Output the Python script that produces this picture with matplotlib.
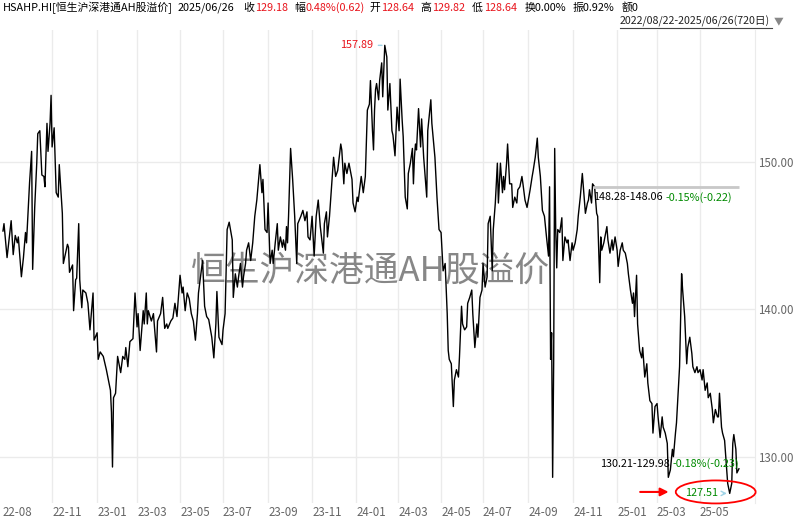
import matplotlib
matplotlib.use('Agg')
import matplotlib.pyplot as plt
from matplotlib.patches import Ellipse
from matplotlib.lines import Line2D

plt.rcParams['font.family'] = ['Noto Sans CJK SC', 'DejaVu Sans']

# trading-day index (0 = 2022/08/22) and index value
days = [0, 1, 4, 8, 10, 12, 14, 15, 18, 20, 22, 23, 26, 28, 29, 31, 33, 34, 36, 38,
        40, 41, 43, 44, 46, 47, 48, 50, 52, 54, 55, 58, 59, 63, 64, 65, 68, 69, 71, 72,
        74, 75, 77, 78, 81, 83, 85, 88, 89, 92, 93, 95, 98, 101, 103, 105, 106, 107, 108, 110,
        112, 115, 117, 119, 120, 122, 124, 127, 129, 131, 132, 134, 137, 138, 140, 141, 142, 145, 147, 148,
        150, 151, 154, 156, 158, 160, 161, 164, 166, 168, 170, 173, 175, 176, 178, 180, 182, 184, 186, 188,
        190, 191, 195, 197, 199, 201, 204, 206, 208, 209, 211, 214, 215, 217, 219, 221, 224, 225, 227, 229,
        230, 232, 234, 235, 237, 238, 240, 242, 244, 246, 248, 251, 253, 254, 256, 258, 259, 261, 263, 264,
        266, 268, 269, 271, 273, 274, 276, 277, 278, 279, 281, 283, 285, 287, 288, 291, 293, 295, 297, 298,
        300, 302, 304, 306, 308, 310, 313, 314, 316, 317, 319, 321, 323, 325, 327, 330, 331, 333, 334, 336,
        338, 341, 342, 344, 346, 347, 350, 352, 354, 356, 358, 359, 361, 362, 363, 364, 365, 367, 368, 370,
        371, 373, 375, 376, 378, 380, 381, 383, 385, 387, 388, 390, 391, 393, 395, 396, 398, 400, 401, 402,
        403, 404, 406, 408, 409, 411, 414, 415, 418, 419, 422, 424, 426, 428, 430, 432, 434, 435, 436, 438,
        440, 441, 443, 445, 446, 448, 449, 451, 453, 454, 456, 458, 459, 461, 463, 464, 466, 468, 469, 471,
        473, 474, 476, 478, 479, 481, 483, 484, 486, 488, 489, 490, 492, 493, 495, 497, 498, 500, 502, 503,
        505, 507, 508, 510, 512, 515, 517, 518, 520, 522, 523, 525, 527, 529, 530, 531, 533, 534, 535, 536,
        537, 538, 539, 540, 541, 542, 544, 546, 547, 549, 551, 552, 554, 556, 557, 559, 561, 562, 564, 566,
        567, 569, 571, 572, 573, 575, 576, 578, 580, 581, 583, 584, 585, 587, 590, 591, 593, 595, 596, 598,
        600, 601, 603, 605, 606, 608, 610, 611, 613, 615, 616, 617, 619, 620, 622, 624, 625, 627, 629, 630,
        632, 634, 635, 637, 639, 640, 642, 644, 645, 647, 649, 650, 652, 654, 655, 657, 658, 659, 661, 663,
        664, 666, 668, 669, 671, 673, 674, 676, 678, 679, 681, 683, 684, 686, 688, 689, 691, 693, 694, 696,
        698, 699, 700, 702, 703, 705, 707, 708, 710, 712, 713, 714, 716, 717, 719]
values = [145.3, 145.8, 143.5, 146.0, 143.7, 145.0, 144.5, 144.9, 142.2, 143.5, 145.2, 144.5, 148.6, 150.7, 142.7, 146.9, 149.9, 151.9, 152.1, 149.1,
          149.0, 148.3, 152.6, 150.7, 152.6, 154.5, 151.0, 152.3, 147.9, 147.6, 149.8, 146.5, 143.1, 144.4, 144.2, 142.5, 143.0, 139.9, 142.0, 142.1,
          145.8, 142.0, 140.1, 141.3, 141.1, 140.4, 138.6, 141.1, 137.9, 138.4, 136.6, 137.1, 136.8, 135.9, 135.2, 134.5, 133.0, 129.3, 134.0, 134.3,
          136.8, 135.7, 136.8, 136.6, 137.4, 136.1, 137.8, 138.0, 141.1, 138.8, 139.7, 137.2, 139.9, 139.0, 141.1, 139.0, 139.9, 139.2, 139.7, 138.8,
          137.1, 139.2, 139.7, 140.8, 138.7, 139.0, 138.7, 139.2, 139.4, 140.4, 139.5, 142.3, 141.1, 141.5, 139.9, 141.1, 140.7, 139.7, 139.2, 137.9,
          139.7, 141.1, 143.3, 140.2, 139.5, 139.3, 138.1, 136.7, 139.0, 141.2, 138.1, 137.6, 138.6, 139.7, 145.4, 145.9, 144.7, 140.8, 142.4, 141.5,
          142.1, 143.1, 141.5, 142.2, 143.1, 144.0, 144.5, 143.3, 144.5, 146.3, 147.4, 149.8, 147.9, 148.8, 145.4, 145.2, 147.2, 143.1, 144.0, 143.1,
          144.5, 145.8, 144.0, 144.9, 144.2, 144.7, 144.0, 145.6, 144.5, 146.3, 150.9, 148.8, 146.3, 143.1, 145.8, 146.3, 146.7, 146.0, 146.6, 144.9,
          144.7, 146.3, 143.6, 146.3, 147.4, 145.6, 143.8, 145.8, 146.6, 144.9, 146.3, 148.3, 150.3, 149.0, 149.4, 151.2, 150.8, 148.5, 149.9, 149.2,
          149.9, 148.8, 147.2, 146.6, 147.6, 147.3, 149.0, 147.9, 149.0, 153.5, 153.9, 155.5, 152.1, 150.8, 153.5, 154.9, 155.3, 154.2, 155.5, 156.7,
          154.4, 157.89, 157.1, 153.5, 155.3, 152.1, 151.8, 150.4, 153.7, 152.1, 155.6, 152.8, 151.7, 147.6, 146.8, 149.2, 149.9, 150.9, 148.5, 150.3,
          151.2, 150.8, 153.6, 151.0, 152.9, 150.3, 147.6, 152.1, 154.2, 152.6, 150.3, 147.6, 145.4, 145.2, 142.6, 143.1, 139.7, 137.2, 136.6, 136.3,
          133.4, 135.2, 135.9, 135.4, 136.8, 140.2, 139.0, 138.6, 138.8, 140.4, 140.8, 141.3, 139.7, 137.4, 139.0, 138.1, 140.8, 141.3, 143.1, 141.5,
          142.2, 145.8, 146.3, 142.6, 145.4, 147.2, 149.9, 147.2, 149.9, 147.9, 149.0, 148.1, 149.9, 151.2, 148.5, 148.5, 146.9, 147.6, 147.2, 148.1,
          148.3, 149.0, 148.5, 147.4, 146.9, 148.1, 149.0, 149.4, 150.3, 151.6, 150.3, 149.0, 146.7, 146.3, 145.6, 144.9, 143.6, 148.3, 136.6, 138.4,
          128.6, 136.3, 150.9, 145.4, 142.8, 145.4, 145.2, 146.2, 143.3, 144.9, 144.5, 144.7, 143.3, 144.5, 144.0, 144.5, 145.4, 146.3, 147.6, 149.2,
          148.3, 146.5, 147.2, 147.4, 148.1, 147.2, 148.5, 148.3, 146.5, 146.3, 141.8, 144.9, 144.0, 144.5, 145.6, 144.7, 143.8, 144.7, 144.0, 144.9,
          144.0, 142.9, 144.0, 144.5, 144.0, 143.8, 143.1, 142.4, 141.3, 140.4, 141.1, 139.5, 142.3, 139.0, 137.2, 136.7, 137.4, 135.4, 136.3, 135.0,
          133.8, 133.6, 131.6, 133.4, 133.6, 132.7, 131.3, 132.7, 132.0, 131.6, 130.9, 128.6, 129.1, 130.5, 130.0, 131.6, 132.3, 133.6, 136.1, 142.4,
          141.3, 139.5, 136.3, 137.4, 138.1, 137.0, 136.1, 135.7, 136.1, 135.7, 135.9, 135.2, 135.9, 134.5, 135.0, 134.0, 134.3, 133.2, 132.3, 133.2,
          132.7, 132.7, 134.3, 132.0, 131.6, 131.1, 129.1, 128.2, 127.51, 128.2, 130.9, 131.5, 130.5, 128.9, 129.18]

tick_days = [0, 48, 92, 131, 173, 215, 259, 302, 345, 386, 428, 469, 513, 557, 600, 639, 681]
tick_labels = ['22-08', '22-11', '23-01', '23-03', '23-05', '23-07', '23-09', '23-11', '24-01',
               '24-03', '24-05', '24-07', '24-09', '24-11', '25-01', '25-03', '25-05']
y_ticks = [130, 140, 150]

# interval statistics boxes: start day, start value, label, change label
range1 = (576, 148.28, '148.28-148.06', '-0.15%(-0.22)')
range2 = (583, 130.21, '130.21-129.98', '-0.18%(-0.23)')

RED = '#e8141c'
GREEN = '#008a00'
GRAY = '#666666'
GRID = '#ebebeb'
FS = 7.8

fig = plt.figure(figsize=(8, 5.18), dpi=100)
ax = fig.add_axes([0, 1 - 503 / 518, 755 / 800, (503 - 30) / 518])

for d in tick_days[1:]:
    ax.axvline(d, color=GRID, lw=1, zorder=0)
for v in y_ticks:
    ax.axhline(v, color=GRID, lw=1, zorder=0)

ax.plot(days, values, color='black', lw=1.0, zorder=3)
ax.set_xlim(-2.9, 734.7)
ax.set_ylim(126.86, 158.93)

for s in ['top', 'left', 'bottom']:
    ax.spines[s].set_visible(False)
ax.spines['right'].set_color(GRID)

ax.set_xticks(tick_days)
ax.set_xticklabels(tick_labels, ha='left', color=GRAY, fontsize=8.3)
ax.yaxis.tick_right()
ax.set_yticks(y_ticks)
ax.set_yticklabels([f'{v:.2f}' for v in y_ticks], color=GRAY, fontsize=8.3)
ax.tick_params(length=0, pad=2)

# watermark
ax.text(0.491, 0.49, '恒生沪深港通AH股溢价', transform=ax.transAxes, fontsize=25,
        color='#7a7a7a', alpha=0.9, ha='center', va='center', zorder=2)

# max / min labels
imax = values.index(max(values))
imin = values.index(min(values))
ax.annotate(f'{values[imax]:.2f}', xy=(days[imax], values[imax]), xytext=(-12, 0),
            textcoords='offset pixels', ha='right', va='center', color=RED, fontsize=FS,
            arrowprops=dict(arrowstyle='-', color='#9fd3e6', lw=1), zorder=5)
ax.annotate(f'{values[imin]:.2f}', xy=(days[imin], values[imin]), xytext=(-12, 0),
            textcoords='offset pixels', ha='right', va='center', color=GREEN, fontsize=FS,
            arrowprops=dict(arrowstyle='->', color='#9fd3e6', lw=1), zorder=5,
            annotation_clip=False)

# red circle + arrow around the low
ax.add_patch(Ellipse((days[imin] - 13.7, values[imin] + 0.1), 78, 1.56, fill=False,
                     edgecolor='red', lw=1.3, clip_on=False, zorder=6))
ax.annotate('', xy=(days[imin] - 57, values[imin] + 0.1), xytext=(-34, 0),
            textcoords='offset pixels',
            arrowprops=dict(arrowstyle='-|>', color='red', lw=1.5, mutation_scale=12),
            annotation_clip=False)

# interval statistics
ax.hlines(range1[1], range1[0], days[-1], color='#c8c8c8', lw=2, zorder=4)
for r in [range1, range2]:
    ax.annotate(r[2], xy=(r[0], r[1]), xytext=(0, -10), textcoords='offset pixels',
                ha='left', va='center', color='black', fontsize=FS, zorder=5)
    ax.annotate(r[3], xy=(r[0], r[1]), xytext=(73, -10), textcoords='offset pixels',
                ha='left', va='center', color=GREEN, fontsize=FS, zorder=5)

# header line
header = [('HSAHP.HI[恒生沪深港通AH股溢价]', 'black', 3), ('2025/06/26', 'black', 178),
          ('收', 'black', 243), ('129.18', RED, 255), ('幅', 'black', 294),
          ('0.48%(0.62)', RED, 306), ('开', 'black', 369), ('128.64', RED, 381),
          ('高', 'black', 420), ('129.82', RED, 432), ('低', 'black', 472),
          ('128.64', RED, 484), ('换0.00%', 'black', 525), ('振0.92%', 'black', 573),
          ('额0', 'black', 622)]
for txt, col, xp in header:
    fig.text(xp / 800, 1 - 8 / 518, txt, color=col, fontsize=FS, ha='left', va='center')

fig.text(620 / 800, 1 - 21 / 518, '2022/08/22-2025/06/26(720日)', color='#222222',
         fontsize=7.7, ha='left', va='center')
fig.add_artist(Line2D([620 / 800, 772 / 800], [1 - 28 / 518, 1 - 28 / 518], color='#444444', lw=0.8))
fig.text(774 / 800, 1 - 21 / 518, '▼', color='#888888', fontsize=7, ha='left', va='center')

fig.savefig('out.png', dpi=100)
